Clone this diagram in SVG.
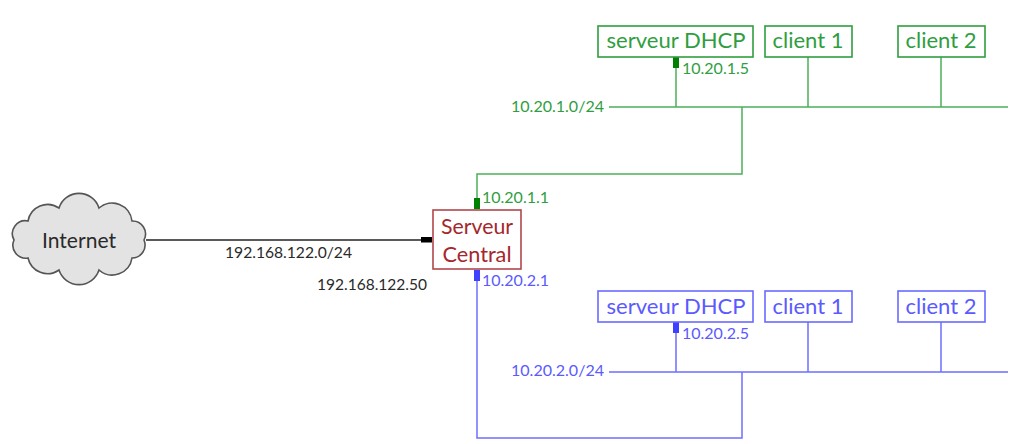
<svg xmlns="http://www.w3.org/2000/svg" width="1036" height="444" viewBox="0 0 1036 444">
<style>
text{font-family:"Lato","Open Sans",sans-serif;}
.s{font-size:15px}
.b{font-size:21px}
.g{fill:#2f9e3f}
.u{fill:#5a5aff}
.k{fill:#2a2a2a}
.r{fill:#a5272c}
.lg{fill:none;stroke:#4caf5a;stroke-width:1.5}
.lu{fill:none;stroke:#6f6fff;stroke-width:1.5}
.bg{fill:#fff;stroke:#2f9e3f;stroke-width:1.6}
.bu{fill:#fff;stroke:#6a6aff;stroke-width:1.6}
</style>
<rect width="1036" height="444" fill="#fff"/>
<g id="connectors">
<path d="M146 240H424" fill="none" stroke="#222" stroke-width="1.6"/>
<rect x="421" y="237" width="11" height="5.500" fill="#000"/>
<path class="lg" d="M609 107H1008M676 57V107M808 57V107M941 57V107M742 107V174H477V199"/>
<rect x="474" y="198" width="6" height="11" fill="#008000"/>
<rect x="673" y="57" width="6" height="11" fill="#008000"/>
<path class="lu" d="M609 372H1008M676 322V372M808 322V372M941 322V372M742 372V438H477V270"/>
<rect x="474" y="270" width="6" height="11" fill="#4040ff"/>
<rect x="673" y="322" width="6" height="11" fill="#4040ff"/>
</g>
<g id="internet">
<path d="M59 208A21 21 0 0 1 99 208A20 20 0 0 1 132 221A13 13 0 0 1 144 240A13 13 0 0 1 132 258A20 20 0 0 1 99 270A21 21 0 0 1 59 270A20 20 0 0 1 28 258A13 13 0 0 1 14 240A13 13 0 0 1 28 221A20 20 0 0 1 59 208Z" fill="#e3e3e3" stroke="#555" stroke-width="1.600"/>
<text x="79" y="248" text-anchor="middle" class="b k" textLength="74" lengthAdjust="spacingAndGlyphs">Internet</text>
</g>
<g id="central">
<rect x="433" y="210" width="88" height="59" fill="#fff" stroke="#b0474b" stroke-width="1.600"/>
<text x="477" y="234" text-anchor="middle" class="b r" textLength="72" lengthAdjust="spacingAndGlyphs">Serveur</text>
<text x="477" y="262" text-anchor="middle" class="b r" textLength="69" lengthAdjust="spacingAndGlyphs">Central</text>
</g>
<g id="g-dhcp"><rect class="bg" x="598" y="26" width="155" height="31"/><text x="676" y="48" text-anchor="middle" class="b g" textLength="139" lengthAdjust="spacingAndGlyphs">serveur DHCP</text></g>
<g id="g-client1"><rect class="bg" x="765" y="26" width="87" height="31"/><text x="808" y="48" text-anchor="middle" class="b g" textLength="71" lengthAdjust="spacingAndGlyphs">client 1</text></g>
<g id="g-client2"><rect class="bg" x="898" y="26" width="87" height="31"/><text x="941" y="48" text-anchor="middle" class="b g" textLength="71" lengthAdjust="spacingAndGlyphs">client 2</text></g>
<g id="u-dhcp"><rect class="bu" x="598" y="291" width="155" height="31"/><text x="676" y="314" text-anchor="middle" class="b u" textLength="139" lengthAdjust="spacingAndGlyphs">serveur DHCP</text></g>
<g id="u-client1"><rect class="bu" x="765" y="291" width="87" height="31"/><text x="808" y="314" text-anchor="middle" class="b u" textLength="71" lengthAdjust="spacingAndGlyphs">client 1</text></g>
<g id="u-client2"><rect class="bu" x="898" y="291" width="87" height="31"/><text x="941" y="314" text-anchor="middle" class="b u" textLength="71" lengthAdjust="spacingAndGlyphs">client 2</text></g>
<g id="labels">
<text x="225" y="258" class="s k" textLength="127" lengthAdjust="spacingAndGlyphs">192.168.122.0/24</text>
<text x="317" y="290" class="s k" textLength="110" lengthAdjust="spacingAndGlyphs">192.168.122.50</text>
<text x="482" y="203" class="s g" textLength="67" lengthAdjust="spacingAndGlyphs">10.20.1.1</text>
<text x="482" y="286" class="s u" textLength="67" lengthAdjust="spacingAndGlyphs">10.20.2.1</text>
<text x="682" y="74" class="s g" textLength="67" lengthAdjust="spacingAndGlyphs">10.20.1.5</text>
<text x="682" y="339" class="s u" textLength="67" lengthAdjust="spacingAndGlyphs">10.20.2.5</text>
<text x="511" y="112" class="s g" textLength="93" lengthAdjust="spacingAndGlyphs">10.20.1.0/24</text>
<text x="511" y="376" class="s u" textLength="93" lengthAdjust="spacingAndGlyphs">10.20.2.0/24</text>
</g>
</svg>
